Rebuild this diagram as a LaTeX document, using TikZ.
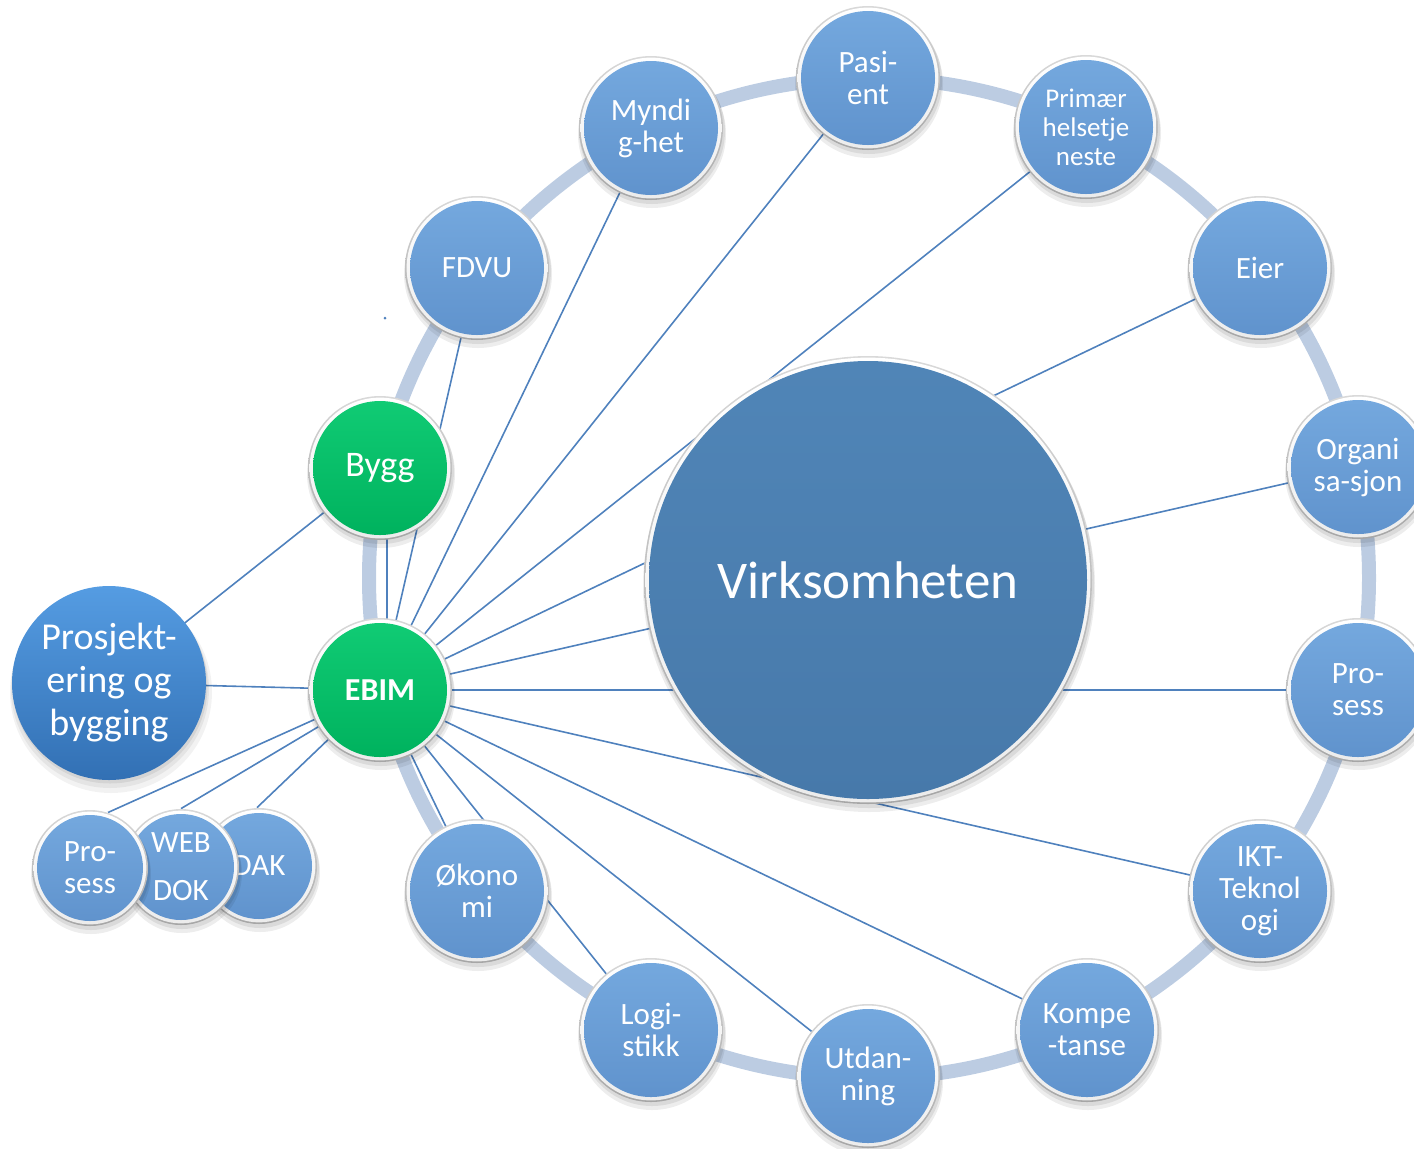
\documentclass[tikz,border=0pt]{standalone}
\usepackage{fontspec}
\setmainfont{Carlito}
\usetikzlibrary{calc}
\pgfdeclarelayer{background}
\pgfsetlayers{background,main}
\definecolor{ringc}{HTML}{BCCCE2}
\definecolor{linec}{HTML}{4F81BD}
\definecolor{bluetop}{HTML}{74A8DE}
\definecolor{bluemid}{HTML}{699ED6}
\definecolor{bluebot}{HTML}{6093CD}
\definecolor{greentop}{HTML}{10CB74}
\definecolor{greenmid}{HTML}{00C268}
\definecolor{greenbot}{HTML}{00B25E}
\definecolor{bigtop}{HTML}{5085B7}
\definecolor{bigmid}{HTML}{4A7DAE}
\definecolor{bigbot}{HTML}{4779AA}
\definecolor{projtop}{HTML}{559CE2}
\definecolor{projbot}{HTML}{3270B4}
\newcommand\fsA{\fontsize{15.5}{16}\selectfont}
\newcommand\fsB{\fontsize{13.5}{14.5}\selectfont}
\newcommand\fsC{\fontsize{18}{20}\selectfont}
\newcommand\fsD{\fontsize{16}{18}\bfseries\selectfont}
\newcommand\fsE{\fontsize{26.5}{30}\selectfont}
\newcommand\fsF{\fontsize{19}{21.5}\selectfont}
% name, x, y, radius(px), fill shading, font, text
\newcommand\orb[7]{%
  \fill[black,opacity=.07] (#2+1,#3+6) circle (#4+2);
  \fill[black,opacity=.08] (#2+1,#3+3) circle (#4+1);
  \shade[top color=gray!30, bottom color=gray!70] (#2,#3) circle (#4);
  \shade[top color=white, bottom color=gray!15] (#2,#3) circle (#4-1.6);
  \shade[#5] (#2,#3) circle (#4-5);
  \node[lbl, minimum size=#4 pt, font=#6] (#1) at (#2,#3) {#7};
}
\tikzset{
  lbl/.style={circle, inner sep=0pt, text=white, align=center},
  link/.style={draw=linec, line width=0.8pt},
  blueball/.style={top color=bluetop, middle color=bluemid, bottom color=bluebot},
  greenball/.style={top color=greentop, middle color=greenmid, bottom color=greenbot},
  bigball/.style={top color=bigtop, middle color=bigmid, bottom color=bigbot},
}
\begin{document}
\begin{tikzpicture}[x=0.5pt,y=-0.5pt]
\useasboundingbox (0,0) rectangle (1414,1148);

% ring nodes
\orb{pas}{868}{78}{72}{blueball}{\fsA}{Pasi-\\ent}
\orb{pri}{1086}{127}{72}{blueball}{\fsB}{Primær\\helsetje\\neste}
\orb{eier}{1260}{268}{72}{blueball}{\fsA}{Eier}
\orb{org}{1358}{467}{72}{blueball}{\fsA}{Organi\\sa-sjon}
\orb{pros}{1358}{690}{72}{blueball}{\fsA}{Pro-\\sess}
\orb{ikt}{1260}{891}{72}{blueball}{\fsA}{IKT-\\Teknol\\ogi}
\orb{komp}{1087}{1030}{72}{blueball}{\fsA}{Kompe\\-tanse}
\orb{utd}{868}{1076}{72}{blueball}{\fsA}{Utdan-\\ning}
\orb{log}{651}{1030}{72}{blueball}{\fsA}{Logi-\\stikk}
\orb{oko}{477}{891}{72}{blueball}{\fsA}{Økono\\mi}
\orb{ebim}{380}{690}{72}{greenball}{\fsD}{EBIM}
\orb{bygg}{380}{468}{72}{greenball}{\fsC}{Bygg}
\orb{fdvu}{477}{268}{72}{blueball}{\fsA}{FDVU}
\orb{myn}{651}{128}{72}{blueball}{\fsA}{Myndi\\g-het}

% centre
\orb{virk}{868}{580}{224}{bigball}{\fsE}{Virksomheten}

% small circles
\orb{dak}{259}{866}{58}{blueball}{\fsA}{DAK}
\orb{web}{181}{867}{58}{blueball}{\fsA}{WEB\\[8pt]DOK}
\orb{sprs}{90}{868}{58}{blueball}{\fsA}{Pro-\\sess}

% Prosjektering og bygging
\fill[black,opacity=.05] (111,692) circle (101);
\fill[black,opacity=.06] (110,689) circle (99);
\fill[black,opacity=.07] (110,686) circle (97.5);
\shade[top color=projtop, bottom color=projbot] (109,683) circle (97);
\node[lbl, minimum size=97pt, font=\fsF] (proj) at (109,683) {Prosjekt-\\ering og\\bygging};

\fill[linec] (385,318) circle (1.5);

\begin{pgfonlayer}{background}
  \draw[ringc, line width=7pt] (869,578) circle (500);
  \foreach \t in {myn,pas,pri,eier,org,pros,ikt,komp,utd,log,oko,fdvu}
    \draw[link] (ebim.center) -- (\t.center);
  \draw[link] ([xshift=3.5pt]ebim.center) -- ([xshift=3.5pt]bygg.center);
  \draw[link] (ebim.center) -- (proj.center);
  \draw[link] (bygg.center) -- (proj.center);
  \draw[link] (ebim.center) -- (sprs.72);
  \draw[link] (ebim.center) -- (web.90);
  \draw[link] (ebim.center) -- (dak.92);
\end{pgfonlayer}
\end{tikzpicture}
\end{document}
